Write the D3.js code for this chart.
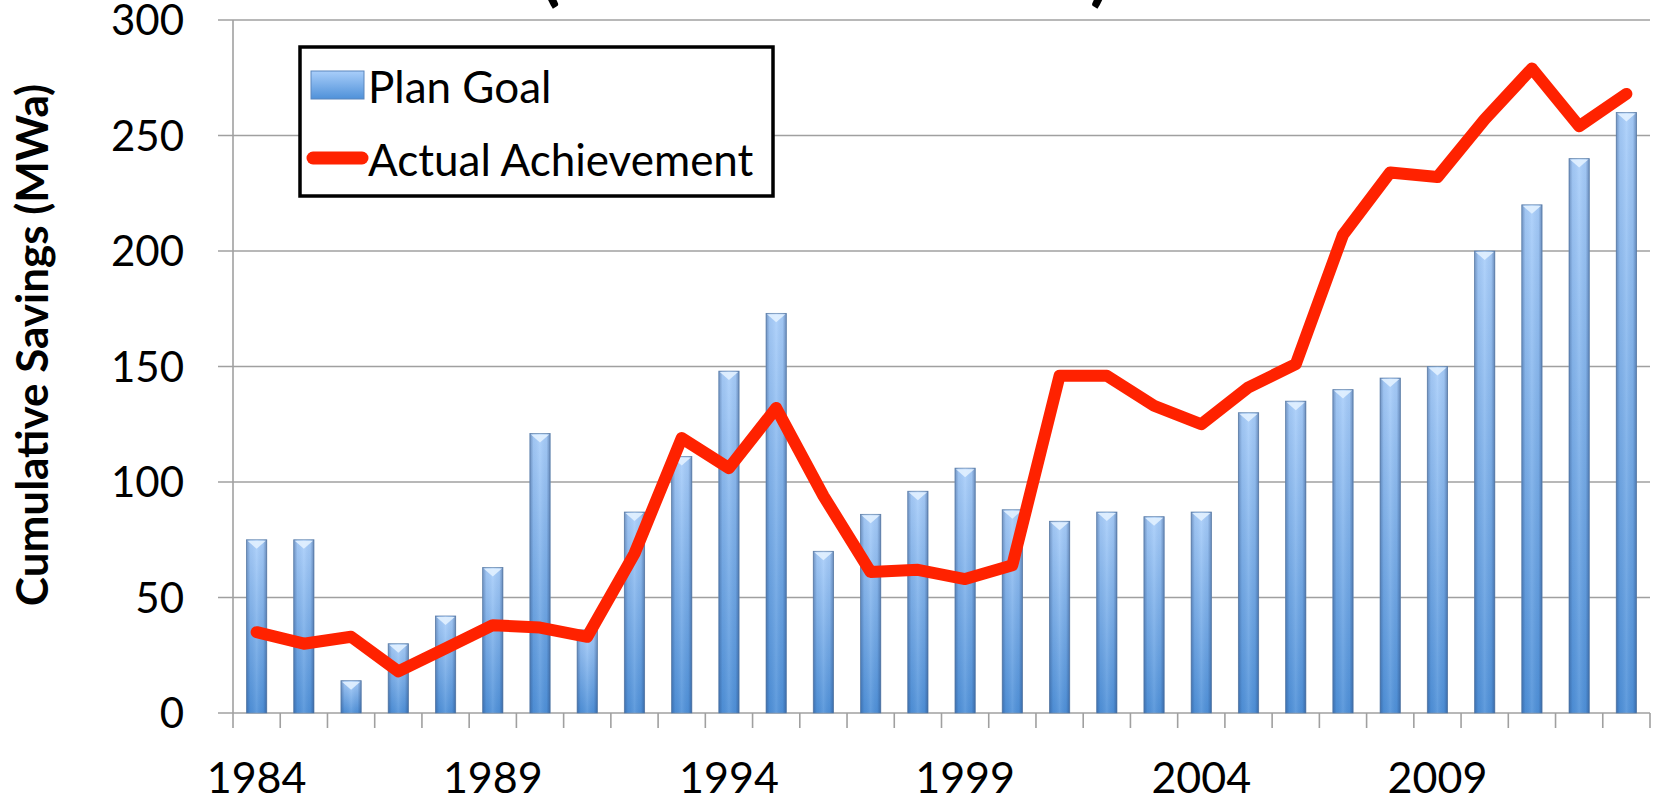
<!DOCTYPE html>
<html>
<head>
<meta charset="utf-8">
<script src="https://cdn.jsdelivr.net/npm/d3@7/dist/d3.min.js"></script>
<style>
  html, body { margin: 0; padding: 0; background: #fff; }
  svg { display: block; font-family: Lato, 'Open Sans', sans-serif; }
</style>
</head>
<body>
<div id="viz"></div>
<script>
// years on the x axis
const years = d3.range(1984, 2014);
const yearLabels = [1984, 1989, 1994, 1999, 2004, 2009];
const yTicks = [0, 50, 100, 150, 200, 250, 300];

// Plan Goal (bars), MWa
const planGoal = [75, 75, 14, 30, 42, 63, 121, 36, 87, 111, 148, 173, 70, 86, 96,
  106, 88, 83, 87, 85, 87, 130, 135, 140, 145, 150, 200, 220, 240, 260];

// Actual Achievement (line), MWa
const actual = [35, 30, 33, 18, 28, 38, 37, 33, 69, 119, 106, 132, 94, 61, 62,
  58, 64, 146, 146, 133, 125, 141, 151, 207, 234, 232, 257, 279, 254, 268];

const seriesNames = ['Plan Goal', 'Actual Achievement'];
const yTitle = 'Cumulative Savings (MWa)';

const width = 1653;
const height = 799;
const margin = { left: 233, right: 3, top: 20, bottom: 86 };

const svg = d3
  .select('#viz')
  .append('svg')
  .attr('width', width)
  .attr('height', height);

const defs = svg.append('defs');

const barGrad = defs
  .append('linearGradient')
  .attr('id', 'barGrad')
  .attr('x1', 0).attr('y1', 0).attr('x2', 0).attr('y2', 1);
barGrad.append('stop').attr('offset', '0%').attr('stop-color', '#a9cefa');
barGrad.append('stop').attr('offset', '100%').attr('stop-color', '#4f91d9');

const barShade = defs
  .append('linearGradient')
  .attr('id', 'barShade')
  .attr('x1', 0).attr('y1', 0).attr('x2', 1).attr('y2', 0);
[
  [0, 'rgba(30,60,110,0.40)'],
  [0.18, 'rgba(30,60,110,0.06)'],
  [0.5, 'rgba(255,255,255,0.10)'],
  [0.82, 'rgba(30,60,110,0.06)'],
  [1, 'rgba(30,60,110,0.45)'],
].forEach(([o, c]) => barShade.append('stop').attr('offset', o).attr('stop-color', c));

const xScale = d3
  .scaleBand()
  .domain(years)
  .range([margin.left, width - margin.right])
  .paddingInner(0.57)
  .paddingOuter(0.285);

const yScale = d3
  .scaleLinear()
  .domain([0, 300])
  .range([713, margin.top]);

const plotRight = width - margin.right;

// title fragments cut off at the top edge
svg
  .append('g')
  .selectAll('text')
  .data([{ t: '(', x: 540 }, { t: ')', x: 1090 }])
  .join('text')
  .attr('x', (d) => d.x)
  .attr('y', -3)
  .attr('font-size', 74)
  .attr('font-weight', 700)
  .attr('fill', '#000')
  .text((d) => d.t);

// gridlines
svg
  .append('g')
  .selectAll('line')
  .data(yTicks)
  .join('line')
  .attr('x1', margin.left - 15)
  .attr('x2', plotRight)
  .attr('y1', (d) => yScale(d))
  .attr('y2', (d) => yScale(d))
  .attr('stroke', '#a0a0a0')
  .attr('stroke-width', 1.6);

// y axis line
svg
  .append('line')
  .attr('x1', margin.left)
  .attr('x2', margin.left)
  .attr('y1', yScale(300))
  .attr('y2', yScale(0))
  .attr('stroke', '#a0a0a0')
  .attr('stroke-width', 1.6);

// x ticks on band boundaries
const boundaries = years.map((y) => xScale(y) - (xScale.step() * xScale.paddingInner()) / 2);
boundaries.push(plotRight);
svg
  .append('g')
  .selectAll('line')
  .data(boundaries)
  .join('line')
  .attr('x1', (d) => d)
  .attr('x2', (d) => d)
  .attr('y1', yScale(0))
  .attr('y2', yScale(0) + 15)
  .attr('stroke', '#a0a0a0')
  .attr('stroke-width', 1.6);

// y tick labels
svg
  .append('g')
  .selectAll('text')
  .data(yTicks)
  .join('text')
  .attr('x', 184)
  .attr('y', (d) => yScale(d))
  .attr('dy', '0.36em')
  .attr('text-anchor', 'end')
  .attr('font-size', 42)
  .attr('fill', '#000')
  .text((d) => d);

// x tick labels
svg
  .append('g')
  .selectAll('text')
  .data(yearLabels)
  .join('text')
  .attr('x', (d) => xScale(d) + xScale.bandwidth() / 2)
  .attr('y', 793)
  .attr('text-anchor', 'middle')
  .attr('font-size', 43)
  .attr('fill', '#000')
  .text((d) => d);

// y axis title
svg
  .append('text')
  .attr('transform', 'translate(48,345) rotate(-90)')
  .attr('text-anchor', 'middle')
  .attr('font-size', 44)
  .attr('font-weight', 700)
  .attr('fill', '#000')
  .text(yTitle);

const barData = years.map((yr, i) => ({ year: yr, value: planGoal[i] }));
const lineData = years.map((yr, i) => ({ year: yr, value: actual[i] }));

// bars
const bars = svg.append('g').attr('class', 'bars');
bars
  .selectAll('rect.fill')
  .data(barData)
  .join('rect')
  .attr('class', 'fill')
  .attr('x', (d) => xScale(d.year))
  .attr('y', (d) => yScale(d.value))
  .attr('width', xScale.bandwidth())
  .attr('height', (d) => yScale(0) - yScale(d.value))
  .attr('fill', 'url(#barGrad)')
  .attr('stroke', '#6f8fb5')
  .attr('stroke-width', 0.8);
bars
  .selectAll('rect.shade')
  .data(barData)
  .join('rect')
  .attr('class', 'shade')
  .attr('x', (d) => xScale(d.year))
  .attr('y', (d) => yScale(d.value))
  .attr('width', xScale.bandwidth())
  .attr('height', (d) => yScale(0) - yScale(d.value))
  .attr('fill', 'url(#barShade)');
bars
  .selectAll('path')
  .data(barData)
  .join('path')
  .attr('d', (d) => {
    const x0 = xScale(d.year);
    const w = xScale.bandwidth();
    const y0 = yScale(d.value);
    return `M${x0 + 1},${y0 + 1}L${x0 + w - 1},${y0 + 1}L${x0 + w / 2},${y0 + 9}Z`;
  })
  .attr('fill', '#e2f1ff')
  .attr('opacity', 0.9);

// actual achievement line
svg
  .append('path')
  .datum(lineData)
  .attr('fill', 'none')
  .attr('stroke', '#ff2200')
  .attr('stroke-width', 12)
  .attr('stroke-linejoin', 'round')
  .attr('stroke-linecap', 'round')
  .attr(
    'd',
    d3
      .line()
      .x((d) => xScale(d.year) + xScale.bandwidth() / 2)
      .y((d) => yScale(d.value))
  );

// legend
const legend = svg.append('g').attr('class', 'legend');
legend
  .append('rect')
  .attr('x', 300)
  .attr('y', 47)
  .attr('width', 473)
  .attr('height', 149)
  .attr('fill', '#fff')
  .attr('stroke', '#000')
  .attr('stroke-width', 3.5);
legend
  .append('rect')
  .attr('x', 311)
  .attr('y', 71)
  .attr('width', 53)
  .attr('height', 28)
  .attr('fill', 'url(#barGrad)')
  .attr('stroke', '#5a86bd')
  .attr('stroke-width', 1);
legend
  .append('line')
  .attr('x1', 313)
  .attr('x2', 362)
  .attr('y1', 158)
  .attr('y2', 158)
  .attr('stroke', '#ff2200')
  .attr('stroke-width', 13)
  .attr('stroke-linecap', 'round');
legend
  .selectAll('text')
  .data(seriesNames)
  .join('text')
  .attr('x', 368)
  .attr('y', (d, i) => (i === 0 ? 103 : 176))
  .attr('font-size', 44)
  .attr('fill', '#000')
  .text((d) => d);
</script>
</body>
</html>
